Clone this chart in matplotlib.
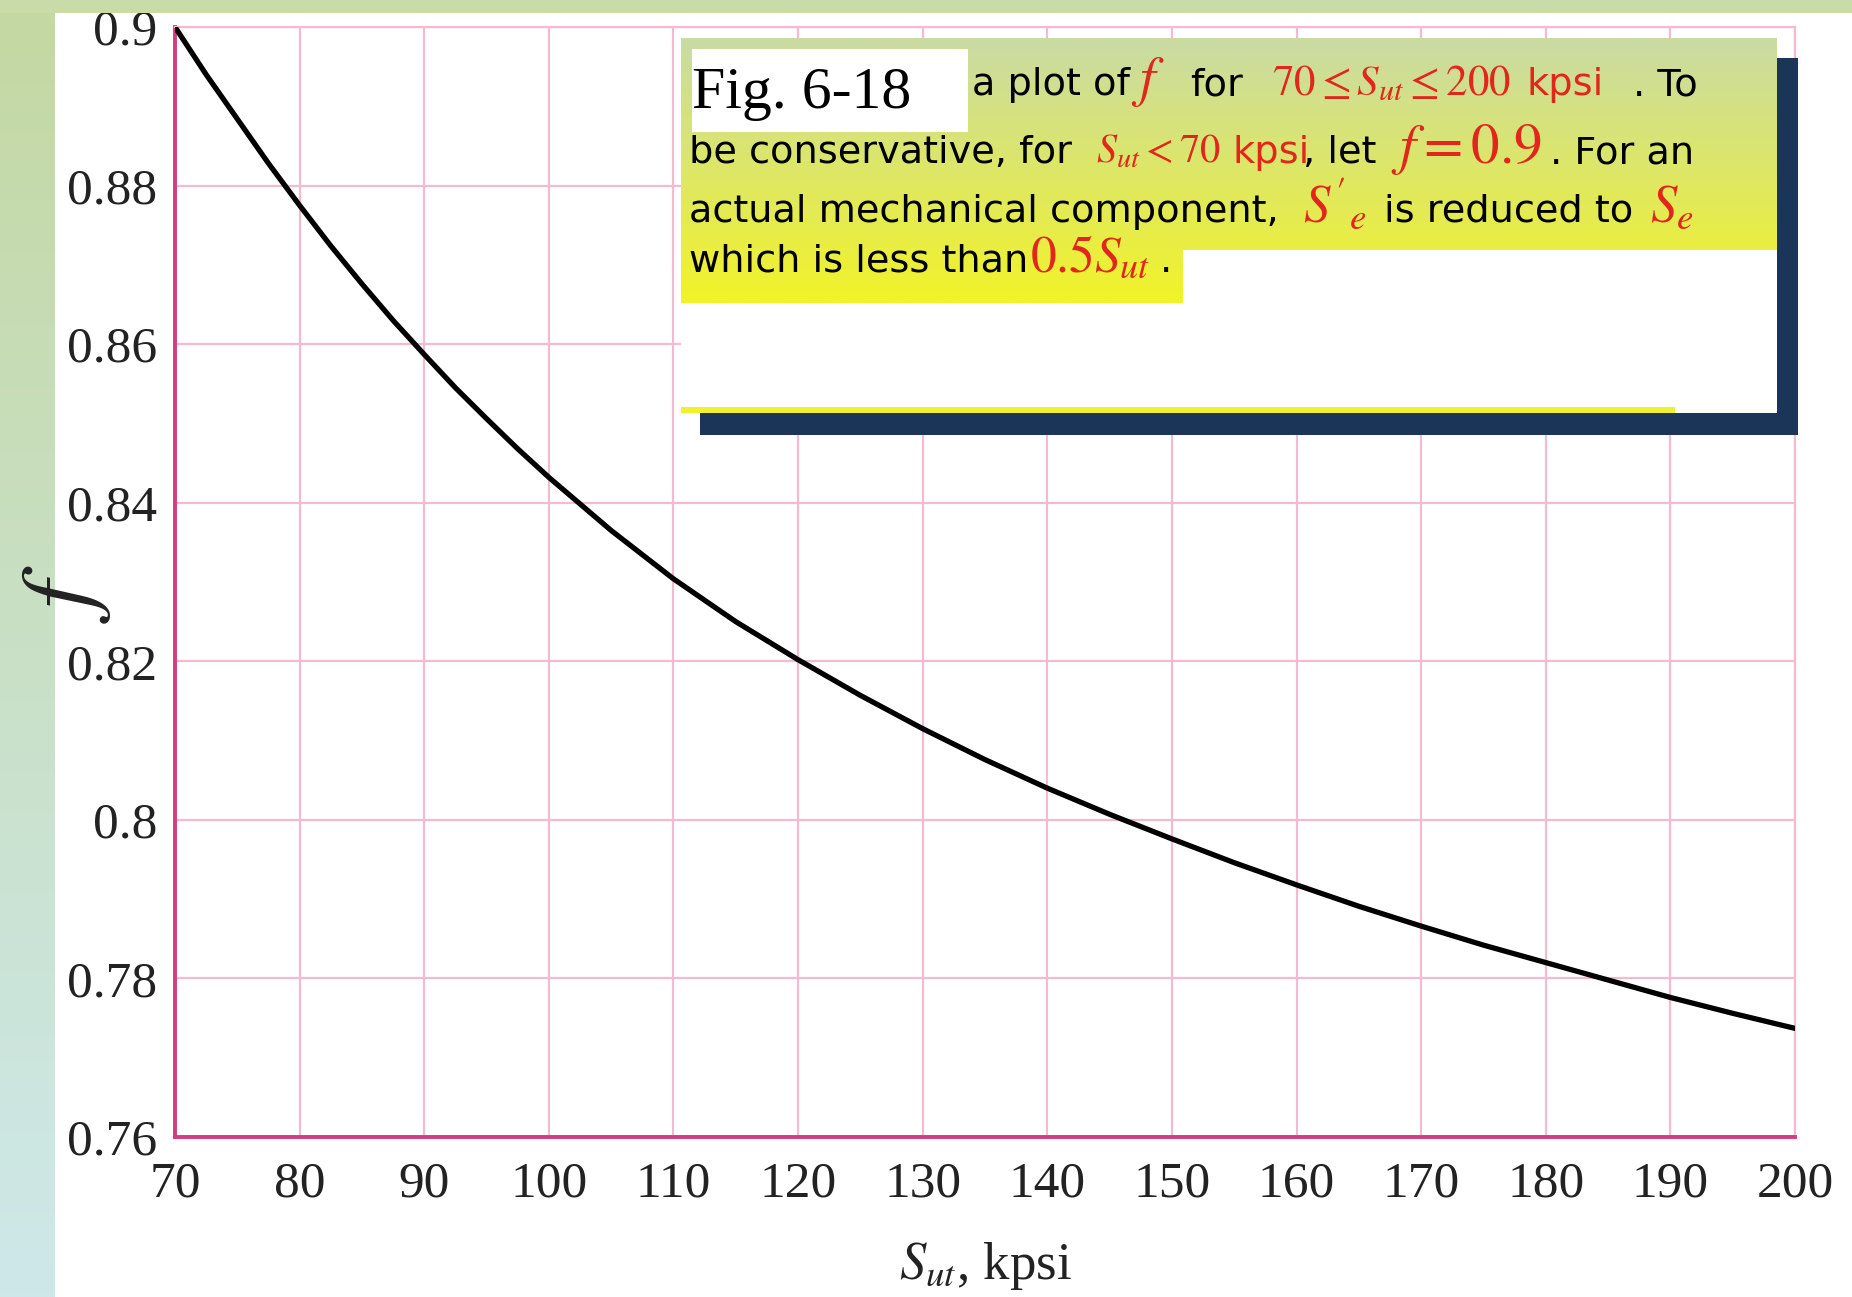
import numpy as np
import matplotlib
matplotlib.use("Agg")
import matplotlib.pyplot as plt
from matplotlib.patches import Rectangle

plt.rcParams['font.family'] = 'Liberation Serif'
plt.rcParams['mathtext.fontset'] = 'stix'

# values (denser where it bends most)
sut = [70, 72.5, 75, 77.5, 80, 82.5, 85, 87.5, 90, 92.5, 95, 97.5, 100,
       105, 110, 115, 120, 125, 130, 135, 140, 145, 150, 155, 160, 165,
       170, 175, 180, 185, 190, 195, 200]
f_vals = [0.9000, 0.8940, 0.8884, 0.8828, 0.8775, 0.8724, 0.8676, 0.8630,
          0.8587, 0.8545, 0.8506, 0.8468, 0.8432,
          0.8365, 0.8304, 0.8250, 0.8202, 0.8157, 0.8115, 0.8076, 0.8040,
          0.8007, 0.7976, 0.7946, 0.7918, 0.7891, 0.7866, 0.7842, 0.7820,
          0.7798, 0.7776, 0.7756, 0.7737]

x_ticks = list(range(70, 201, 10))
y_ticks = [0.76, 0.78, 0.80, 0.82, 0.84, 0.86, 0.88, 0.90]
y_tick_labels = ['0.76', '0.78', '0.8', '0.82', '0.84', '0.86', '0.88', '0.9']

RED = '#e2261b'
PINK = '#f3bad2'
MAGENTA = '#d23c82'
SANS = 'DejaVu Sans'

W, H = 1852, 1297
fig = plt.figure(figsize=(W / 100, H / 100), dpi=100)
fig.patch.set_facecolor('white')


def gradient(axis, x0, x1, y0, y1, top, bottom, z):
    g = np.linspace(0, 1, 256)[:, None, None]
    top = np.array(top) / 255.0
    bottom = np.array(bottom) / 255.0
    img = top * (1 - g) + bottom * g
    axis.imshow(img, extent=(x0, x1, y1, y0), aspect='auto',
                interpolation='bilinear', zorder=z)


# slide background strip on the left, behind everything
bg = fig.add_axes([0, 0, 1, 1], zorder=-1)
bg.axis('off')
gradient(bg, 0, 55, 0, H, (196, 216, 162), (206, 232, 234), 1)
bg.set_xlim(0, W)
bg.set_ylim(H, 0)

# main plot
ax = fig.add_axes([175 / W, 1 - 1137 / H, 1620 / W, 1110 / H])
ax.plot(sut, f_vals, color='black', lw=3.8, zorder=3,
        solid_joinstyle='round', solid_capstyle='round')
ax.set_xlim(70, 200)
ax.set_ylim(0.76, 0.90)
ax.set_xticks(x_ticks)
ax.set_yticks(y_ticks)
ax.set_yticklabels(y_tick_labels)
ax.grid(True, color=PINK, lw=1.6)
ax.set_axisbelow(True)
ax.tick_params(length=0, labelsize=37, labelcolor='#222222')
ax.tick_params(axis='x', pad=17)
ax.tick_params(axis='y', pad=13)
for side in ['left', 'bottom']:
    ax.spines[side].set_color(MAGENTA)
    ax.spines[side].set_linewidth(2.8)
for side in ['top', 'right']:
    ax.spines[side].set_color(PINK)
    ax.spines[side].set_linewidth(1.6)

ax.set_ylabel('$f$', fontsize=72, color='#222222')
ax.yaxis.set_label_coords(-0.038, 0.49)
ax.set_xlabel(r'$S_{ut}$, kpsi', fontsize=38, color='#222222')
ax.xaxis.set_label_coords(0.5, -0.093)

# top band and text box, in pixel coordinates, above the plot
ov = fig.add_axes([0, 0, 1, 1], zorder=5)
ov.axis('off')
ov.patch.set_alpha(0)

ov.add_patch(Rectangle((0, 0), W, 13, color='#c8dba8', lw=0, zorder=1))

ov.add_patch(Rectangle((700, 58), 1098, 377, color='#1b3558', lw=0, zorder=1))
gradient(ov, 681, 1777, 38, 303, (201, 219, 165), (242, 243, 40), 2)
ov.add_patch(Rectangle((681, 303), 1096, 104, color='white', lw=0, zorder=3))
ov.add_patch(Rectangle((681, 407), 994, 6, color='#eef22c', lw=0, zorder=3))
ov.add_patch(Rectangle((1675, 407), 102, 6, color='white', lw=0, zorder=3))
ov.add_patch(Rectangle((1183, 250), 594, 53, color='white', lw=0, zorder=3))
ov.add_patch(Rectangle((692, 49), 276, 83, color='white', lw=0, zorder=3))
ov.set_xlim(0, W)
ov.set_ylim(H, 0)


def put(x, y, s, color='black', size=27.5, family=SANS):
    ov.text(x, y, s, color=color, fontsize=size, family=family,
            ha='left', va='baseline', zorder=4)


put(692, 108, 'Fig. 6-18', size=43, family='Liberation Serif')
put(972, 95, 'a plot of')
put(1131, 95, '$f$', RED, 40)
put(1190, 95, 'for')
put(1272, 95, r'$70 \leq S_{ut} \leq 200$', RED, 31)
put(1526, 95, 'kpsi', RED)
put(1633, 95, '. To')

put(689, 163, 'be conservative, for')
put(1096, 163, r'$S_{ut} < 70$', RED, 29)
put(1232, 163, 'kpsi', RED)
put(1303, 163, ', let')
put(1391, 163, r'$f = 0.9$', RED, 41)
put(1550, 163, '. For an')

put(689, 222, 'actual mechanical component,')
put(1303, 222, r"$S'_e$", RED, 38)
put(1384, 222, 'is reduced to')
put(1650, 222, '$S_e$', RED, 38)

put(689, 272, 'which is less than')
put(1030, 272, r'$0.5S_{ut}$', RED, 37)
put(1160, 272, '.')

fig.savefig('out.png', dpi=100)
